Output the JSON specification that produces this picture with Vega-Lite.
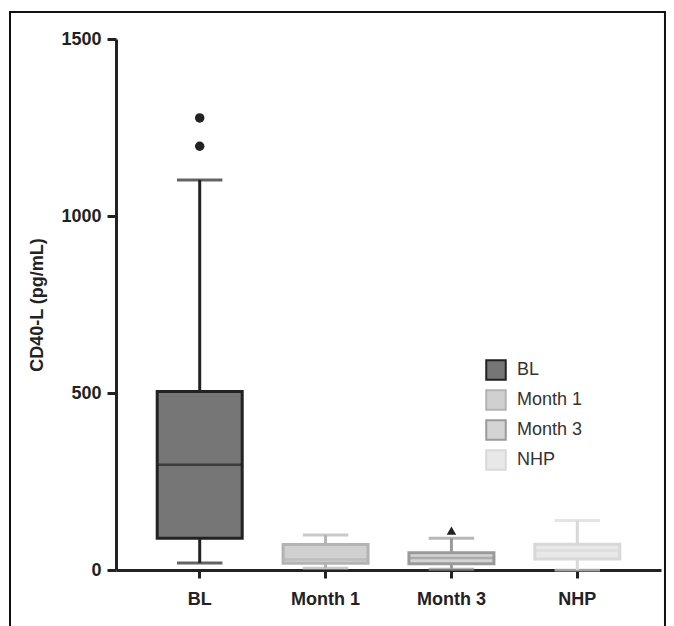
{
  "$schema": "https://vega.github.io/schema/vega-lite/v6.json",
  "width": 545,
  "height": 531,
  "autosize": {"type": "none"},
  "padding": {"left": 116, "top": 39, "right": 13, "bottom": 56},
  "background": "white",
  "config": {"view": {"stroke": null}, "font": "Liberation Sans"},
  "datasets": {
    "boxes": [
      {"group": "BL", "lo": 20, "q1": 90, "med": 297, "q3": 504, "hi": 1102},
      {"group": "Month 1", "lo": 5, "q1": 19, "med": 30, "q3": 72, "hi": 99},
      {"group": "Month 3", "lo": 2, "q1": 18, "med": 34, "q3": 49, "hi": 90},
      {"group": "NHP", "lo": 0, "q1": 31, "med": 55, "q3": 73, "hi": 140}
    ],
    "outliers": [
      {"group": "BL", "value": 1277},
      {"group": "BL", "value": 1197},
      {"group": "Month 3", "value": 111}
    ],
    "frame": [{"x0": -0.1945, "x1": 1.0073, "y0": -300, "y1": 1576}]
  },
  "layer": [
    {
      "data": {"name": "frame"},
      "mark": {"type": "rect", "fill": null, "stroke": "#111", "strokeWidth": 2},
      "encoding": {
        "x": {"field": "x0", "type": "quantitative", "scale": {"domain": [0, 1], "nice": false, "zero": false}, "axis": null},
        "x2": {"field": "x1"},
        "y": {"field": "y0", "type": "quantitative", "scale": {"domain": [0, 1500], "nice": false}, "axis": null},
        "y2": {"field": "y1"}
      }
    },
    {
      "data": {"name": "boxes"},
      "encoding": {
        "x": {
          "field": "group", "type": "nominal",
          "scale": {"domain": ["BL", "Month 1", "Month 3", "NHP"], "paddingInner": 0, "paddingOuter": 0.165},
          "axis": {
            "orient": "bottom", "title": null, "labelAngle": 0,
            "labelFontSize": 18, "labelFontWeight": "bold", "labelColor": "#222",
            "domainColor": "#222", "domainWidth": 3, "tickColor": "#222", "tickWidth": 3, "tickSize": 8,
            "labelPadding": 12
          }
        }
      },
      "layer": [
        {
          "mark": {"type": "rule", "strokeWidth": 3},
          "encoding": {
            "y": {
              "field": "lo", "type": "quantitative",
              "scale": {"domain": [0, 1500], "nice": false},
              "axis": {
                "orient": "left", "values": [0, 500, 1000, 1500], "format": "d", "grid": false,
                "title": "CD40-L (pg/mL)", "titleFontSize": 18, "titleFontWeight": "bold", "titleColor": "#222", "titlePadding": 14,
                "labelFontSize": 18, "labelFontWeight": "bold", "labelColor": "#222", "labelPadding": 6,
                "domainColor": "#222", "domainWidth": 3, "tickColor": "#222", "tickWidth": 3, "tickSize": 9
              }
            },
            "y2": {"field": "q1"},
            "stroke": {"field": "group", "type": "nominal"}
          }
        },
        {
          "mark": {"type": "rule", "strokeWidth": 3},
          "encoding": {
            "y": {"field": "q3", "type": "quantitative"},
            "y2": {"field": "hi"},
            "stroke": {"field": "group", "type": "nominal"}
          }
        },
        {
          "mark": {"type": "tick", "size": 43, "thickness": 0.5, "filled": false, "strokeWidth": 2.5},
          "encoding": {
            "y": {"field": "lo", "type": "quantitative"},
            "stroke": {"field": "group", "type": "nominal"}
          }
        },
        {
          "mark": {"type": "tick", "size": 43, "thickness": 0.5, "filled": false, "strokeWidth": 2.5},
          "encoding": {
            "y": {"field": "hi", "type": "quantitative"},
            "stroke": {"field": "group", "type": "nominal"}
          }
        },
        {
          "mark": {"type": "bar", "size": 85, "strokeWidth": 3, "opacity": 1, "fillOpacity": 1},
          "encoding": {
            "y": {"field": "q1", "type": "quantitative"},
            "y2": {"field": "q3"},
            "fill": {
              "field": "group", "type": "nominal",
              "scale": {"domain": ["BL", "Month 1", "Month 3", "NHP"], "range": ["#767676", "#d0d0d0", "#d4d4d4", "#e8e8e8"]},
              "legend": {
                "title": null, "orient": "none", "legendX": 369, "legendY": 320,
                "symbolType": "square", "symbolSize": 380, "symbolStrokeWidth": 2, "symbolOpacity": 1,
                "labelFontSize": 18, "labelColor": "#333", "labelOffset": 10,
                "rowPadding": 2, "padding": 0,
                "encode": {"symbols": {"update": {"opacity": {"value": 1}, "fillOpacity": {"value": 1}}}}
              }
            },
            "stroke": {
              "field": "group", "type": "nominal",
              "scale": {"domain": ["BL", "Month 1", "Month 3", "NHP"], "range": ["#222222", "#b3b3b3", "#9a9a9a", "#d8d8d8"]}
            }
          }
        },
        {
          "mark": {"type": "tick", "size": 82, "thickness": 0.5, "filled": false, "strokeWidth": 2},
          "encoding": {
            "y": {"field": "med", "type": "quantitative"},
            "stroke": {"field": "group", "type": "nominal"}
          }
        },
        {
          "data": {"name": "outliers"},
          "mark": {"type": "point", "filled": true, "size": 90, "fill": "#222", "opacity": 1},
          "encoding": {
            "y": {"field": "value", "type": "quantitative"},
            "shape": {
              "field": "group", "type": "nominal",
              "scale": {"domain": ["BL", "Month 3"], "range": ["circle", "triangle-up"]},
              "legend": null
            }
          }
        }
      ]
    }
  ],
  "resolve": {"scale": {"x": "independent", "y": "independent"}}
}
